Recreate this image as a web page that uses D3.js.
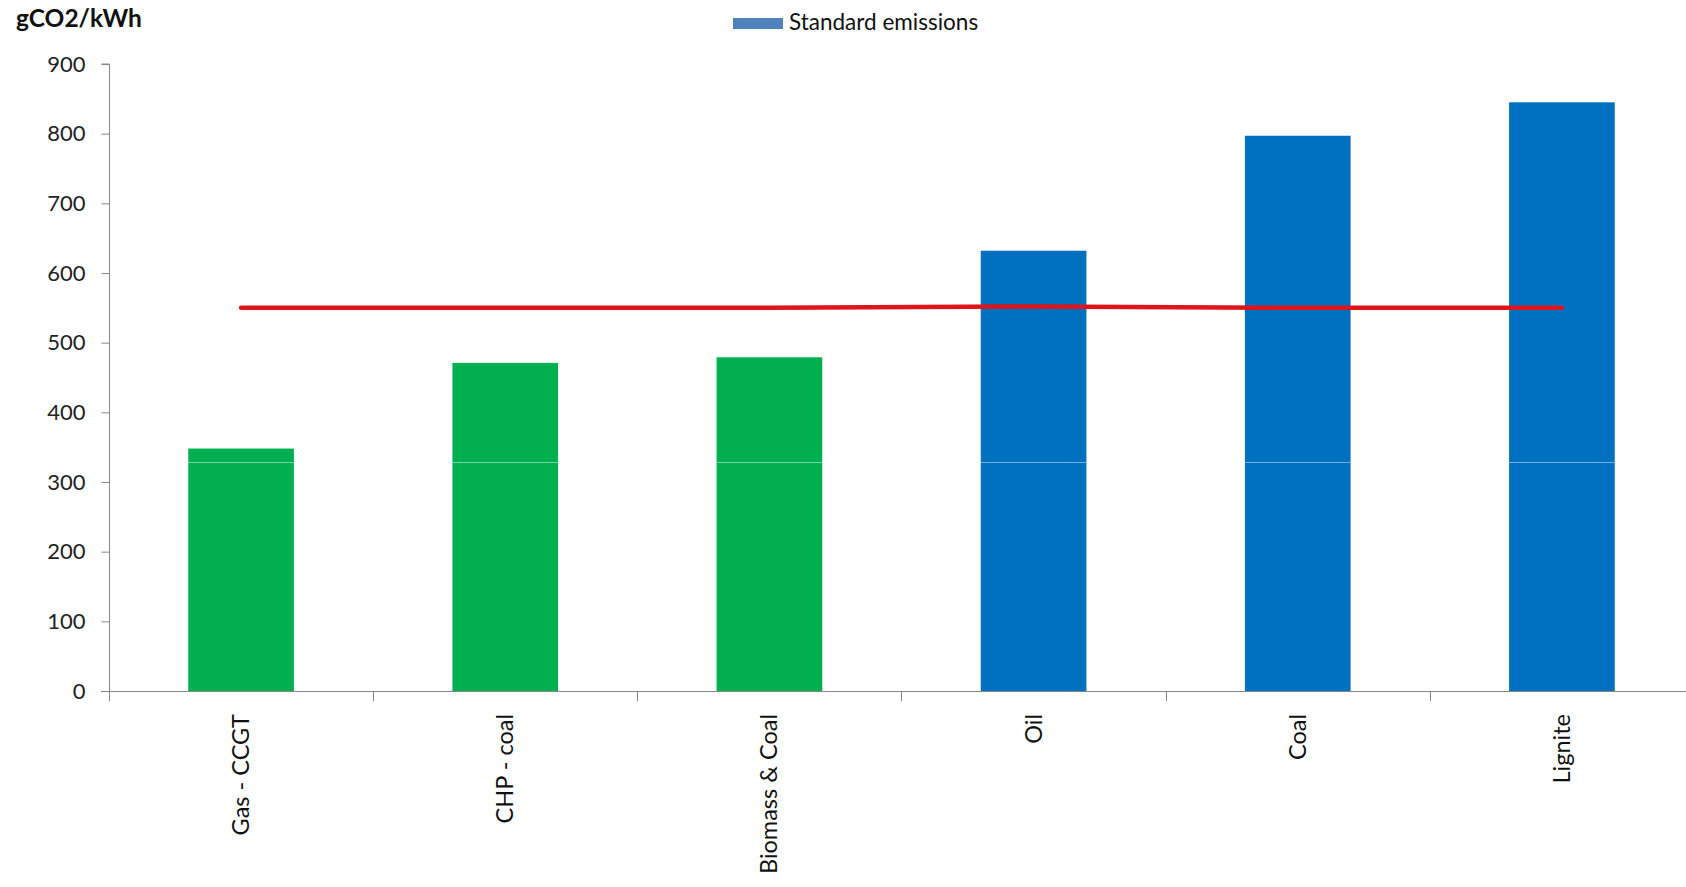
<!DOCTYPE html>
<html>
<head>
<meta charset="utf-8">
<script src="https://cdn.jsdelivr.net/npm/d3@7"></script>
<style>
  html, body { margin: 0; padding: 0; background: #fff; overflow: hidden; }
  svg { display: block; font-family: Lato, "Open Sans", sans-serif; }
</style>
</head>
<body>
<svg id="chart" width="1686" height="887"></svg>
<script>
// Emission intensity by generation technology (gCO2/kWh)
const categories = ["Gas - CCGT", "CHP - coal", "Biomass & Coal", "Oil", "Coal", "Lignite"];
const emissions = [348, 471, 479, 632, 797, 845];
const barGroup = ["low", "low", "low", "high", "high", "high"];
const lowerSegment = [328, 328, 328, 328, 328, 328];
const standardLimit = [550, 550, 550, 552, 550, 550];
const yTicks = [0, 100, 200, 300, 400, 500, 600, 700, 800, 900];

const colors = { low: "#00B050", high: "#0070C0" };

const svg = d3.select("#chart");
const left = 109, zeroY = 691, topY = 64, plotRight = 1694;

const x = d3.scaleBand().domain(categories).range([left, plotRight])
  .paddingInner(0.6).paddingOuter(0.3);
const y = d3.scaleLinear().domain([0, 900]).range([zeroY, topY]);

const axisColor = "#868686";

// bars
const bars = svg.append("g");
bars.selectAll("rect").data(categories).join("rect")
  .attr("x", d => x(d))
  .attr("y", (d, i) => y(emissions[i]))
  .attr("width", x.bandwidth())
  .attr("height", (d, i) => y(0) - y(emissions[i]))
  .attr("fill", (d, i) => colors[barGroup[i]]);

// faint boundary between the stacked lower segment and the rest of each bar
bars.selectAll("line").data(categories).join("line")
  .attr("x1", d => x(d))
  .attr("x2", d => x(d) + x.bandwidth())
  .attr("y1", (d, i) => Math.round(y(lowerSegment[i])) + 0.5)
  .attr("y2", (d, i) => Math.round(y(lowerSegment[i])) + 0.5)
  .attr("stroke", "rgba(255,255,255,0.45)")
  .attr("stroke-width", 1);

// y axis
const yAxis = svg.append("g")
  .attr("transform", `translate(${left + 0.5},0)`)
  .call(d3.axisLeft(y).tickValues(yTicks).tickSize(8).tickPadding(16).tickFormat(d3.format("d")));
yAxis.select(".domain").attr("stroke", axisColor).attr("d", `M-8,${topY}H0V${zeroY}`);
yAxis.selectAll(".tick line").attr("stroke", axisColor);
yAxis.selectAll(".tick text").attr("fill", "#222").style("font-size", "22px").style("font-family", "Lato, sans-serif");

// x axis: baseline plus tick marks at category boundaries
const xAxis = svg.append("g");
xAxis.append("line")
  .attr("x1", left - 8).attr("x2", 1686)
  .attr("y1", zeroY + 0.5).attr("y2", zeroY + 0.5)
  .attr("stroke", axisColor);
const boundaries = categories.map(c => x(c) - x.step() * x.paddingOuter());
xAxis.selectAll("line.sep").data(boundaries).join("line")
  .attr("class", "sep")
  .attr("x1", d => Math.round(d) + 0.5).attr("x2", d => Math.round(d) + 0.5)
  .attr("y1", zeroY).attr("y2", zeroY + 10)
  .attr("stroke", axisColor);
xAxis.selectAll("text").data(categories).join("text")
  .attr("transform", d => `translate(${x(d) + x.bandwidth() / 2 + 8},${zeroY + 23}) rotate(-90)`)
  .attr("text-anchor", "end")
  .attr("fill", "#111")
  .style("font-size", "23.5px")
  .text(d => d);

// standard emissions reference line
const line = d3.line()
  .x((d, i) => x(categories[i]) + x.bandwidth() / 2)
  .y(d => y(d));
svg.append("path")
  .datum(standardLimit)
  .attr("d", line)
  .attr("fill", "none")
  .attr("stroke", "#E0141B")
  .attr("stroke-width", 4.5)
  .attr("stroke-linecap", "round")
  .attr("stroke-linejoin", "round");

// unit label
svg.append("text")
  .attr("x", 16).attr("y", 27)
  .attr("fill", "#111")
  .style("font-size", "24.5px")
  .style("font-weight", "bold")
  .text("gCO2/kWh");

// legend
const legend = svg.append("g");
legend.append("rect")
  .attr("x", 733).attr("y", 18).attr("width", 50).attr("height", 11)
  .attr("fill", "#4F81BD");
legend.append("text")
  .attr("x", 789).attr("y", 30)
  .attr("fill", "#111")
  .style("font-size", "22.5px")
  .text("Standard emissions");
</script>
</body>
</html>
